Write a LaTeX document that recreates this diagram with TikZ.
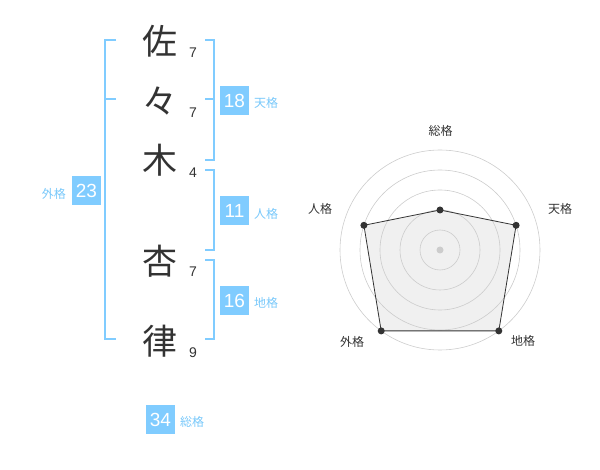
\documentclass[tikz,border=0pt]{standalone}
\usepackage{fontspec}
\setmainfont{Liberation Sans}
\newfontfamily\cjk{Noto Sans CJK JP}
\definecolor{kblue}{RGB}{128,204,255}
\definecolor{klabel}{RGB}{120,200,250}
\definecolor{kdark}{RGB}{51,51,51}
\definecolor{kgrid}{RGB}{204,204,204}
\definecolor{kfill}{RGB}{240,240,240}
\tikzset{
  kanji/.style={font=\cjk\fontsize{35}{35}\selectfont, text=kdark, inner sep=0pt},
  strokes/.style={font=\fontsize{14}{14}\selectfont, text=kdark, inner sep=0pt},
  numbox/.style={fill=kblue, text=white, minimum width=29pt, minimum height=29pt, inner sep=0pt, font=\fontsize{19}{19}\selectfont},
  kakulabel/.style={font=\cjk\fontsize{12}{12}\selectfont, text=klabel, inner sep=0pt},
  bracket/.style={draw=kblue, line width=2pt},
  ring/.style={draw=kgrid, line width=0.6pt},
  radarlabel/.style={font=\cjk\fontsize{12}{12}\selectfont, text=kdark, inner sep=0pt},
  dot/.style={circle, fill=kdark, minimum size=7pt, inner sep=0pt}
}
\begin{document}
\begin{tikzpicture}[x=1pt,y=-1pt]
\useasboundingbox (0,0) rectangle (600,470);
% kanji
\node[kanji] (k1) at (160,41) {佐};
\node[kanji] (k2) at (160,101) {々};
\node[kanji] (k3) at (160,160) {木};
\node[kanji] (k4) at (160,261) {杏};
\node[kanji] (k5) at (160,341) {律};
% stroke counts
\node[strokes] (s1) at (193,53) {7};
\node[strokes] (s2) at (193,113) {7};
\node[strokes] (s3) at (193,173) {4};
\node[strokes] (s4) at (193,272) {7};
\node[strokes] (s5) at (193,353) {9};
% left bracket (gaikaku)
\draw[bracket] (116,40) -- (105,40) -- (105,339) -- (116,339);
\draw[bracket] (105,99.5) -- (116,99.5);
% right brackets
\draw[bracket] (205,40) -- (214,40) -- (214,160) -- (205,160);
\draw[bracket] (205,99.5) -- (214,99.5);
\draw[bracket] (205,170) -- (214,170) -- (214,250) -- (205,250);
\draw[bracket] (205,260) -- (214,260) -- (214,339) -- (205,339);
% boxes
\node[numbox] (b18) at (234.5,100.5) {18};
\node[kakulabel, anchor=west] (l18) at (254,103) {天格};
\node[numbox] (b11) at (234.5,211) {11};
\node[kakulabel, anchor=west] (l11) at (254,213.5) {人格};
\node[numbox] (b16) at (234.5,300.5) {16};
\node[kakulabel, anchor=west] (l16) at (254,303) {地格};
\node[numbox] (b23) at (86.5,191) {23};
\node[kakulabel, anchor=east] (l23) at (66,193.5) {外格};
\node[numbox] (b34) at (160.5,419.5) {34};
\node[kakulabel, anchor=west] (l34) at (180,422) {総格};
% radar
\coordinate (pS) at (440,210);
\coordinate (pT) at (516.1,225.3);
\coordinate (pC) at (498.8,330.9);
\coordinate (pG) at (381.2,330.9);
\coordinate (pJ) at (363.9,225.3);
\fill[kfill] (pS) -- (pT) -- (pC) -- (pG) -- (pJ) -- cycle;
\foreach \r in {20,40,60,80,100} \draw[ring] (440,250) circle (\r);
\fill[kgrid] (440,250) circle (3.5);
\draw[draw=kdark, line width=0.8pt] (pS) -- (pT) -- (pC) -- (pG) -- (pJ) -- cycle;
\foreach \p in {pS,pT,pC,pG,pJ} \node[dot] at (\p) {};
\node[radarlabel] (rS) at (440.5,130.5) {総格};
\node[radarlabel] (rT) at (560,209) {天格};
\node[radarlabel] (rC) at (523,341) {地格};
\node[radarlabel] (rG) at (352,342) {外格};
\node[radarlabel] (rJ) at (320,209) {人格};
\end{tikzpicture}
\end{document}
